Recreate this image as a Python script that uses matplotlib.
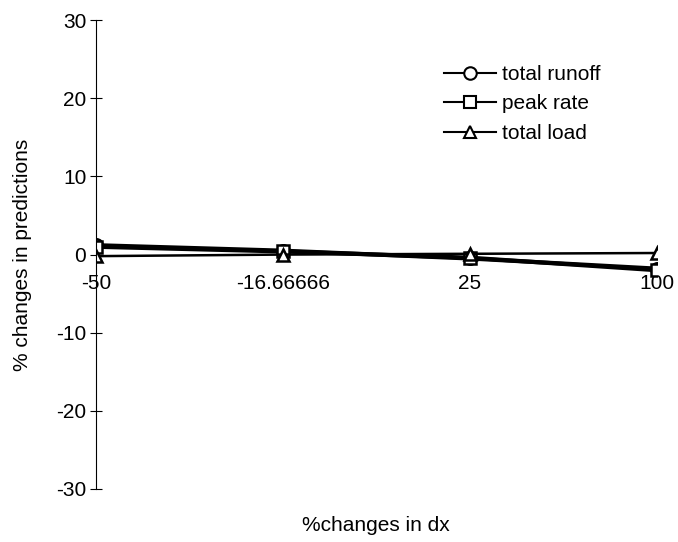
import matplotlib
matplotlib.use('Agg')
import matplotlib.pyplot as plt
from matplotlib.lines import Line2D

plt.rcParams['font.family'] = ['Liberation Sans', 'DejaVu Sans']
plt.rcParams['axes.unicode_minus'] = False

# sensitivity of predictions to dx
categories = ['-50', '-16.66666', '25', '100']
total_runoff = [1.2, 0.5, -0.5, -1.8]
peak_rate = [1.0, 0.4, -0.4, -2.0]
total_load = [-0.2, 0.0, 0.1, 0.2]
yticks = [-30, -20, -10, 0, 10, 20, 30]

fig = plt.figure(figsize=(6.78, 5.42), dpi=100)
ax = fig.add_axes([0.1416, 0.0978, 0.827, 0.865])

xs = range(len(categories))
mk = dict(c='k', ms=9, mfc='white', mec='k', mew=1.8)
ax.plot(xs, total_runoff, '-o', lw=3, **mk)
ax.plot(xs, peak_rate, '-s', lw=3, **dict(mk, ms=8))
ax.plot(xs, total_load, '-^', lw=1.8, **mk)

ax.set_xlim(0, 3)
ax.set_ylim(-30, 30)
ax.set_yticks(yticks)
ax.set_xticks(list(xs))
ax.set_xticklabels(categories)

for s in ['top', 'right']:
    ax.spines[s].set_visible(False)
# category axis crosses at zero, its line hidden under the series
ax.spines['bottom'].set_position(('data', 0))
ax.spines['bottom'].set_visible(False)
ax.spines['left'].set_linewidth(0.8)
ax.tick_params(axis='y', direction='inout', length=8, width=0.8, labelsize=15, pad=3)
ax.tick_params(axis='x', length=0, labelsize=15, pad=14)

ax.set_xlabel('%changes in dx', fontsize=15)
ax.xaxis.set_label_coords(0.5, -0.058)
ax.set_ylabel('% changes in predictions', fontsize=15)
ax.yaxis.set_label_coords(-0.115, 0.5)

# legend handles are drawn with thin lines
handles = [Line2D([], [], ls='-', marker=m, c='k', lw=1.5, ms=ms, mfc='white', mec='k', mew=1.5)
           for m, ms in [('o', 9), ('s', 8), ('^', 9)]]
ax.legend(handles, ['total runoff', 'peak rate', 'total load'],
          loc='upper left', bbox_to_anchor=(0.605, 0.922), frameon=False, fontsize=15,
          handlelength=2.5, labelspacing=0.5, handletextpad=0.3, borderaxespad=0)

fig.savefig('out.png', dpi=100)
